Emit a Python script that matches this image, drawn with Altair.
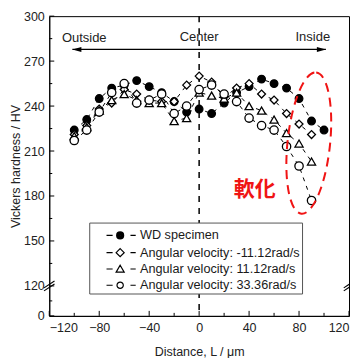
import altair as alt
import pandas as pd

# ---------------- data ----------------
series_names = ["WD specimen", "Angular velocity: -11.12rad/s",
                "Angular velocity: 11.12rad/s", "Angular velocity: 33.36rad/s"]

dist_wd = [-100, -90, -80, -70, -60, -50, -40, -30, -20, -10, 0, 10, 20, 30, 40, 50, 60, 70, 80, 90, 100]
hv_wd = [224, 231, 245, 252, 254, 257, 253, 249, 243, 236, 238, 235, 242, 249, 253, 258, 255, 252, 245, 230, 224]

dist_av = [-100, -90, -80, -70, -60, -50, -40, -30, -20, -10, 0, 10, 20, 30, 40, 50, 60, 70, 80, 90]
hv_m1112 = [221, 227, 238, 242, 251, 248, 244, 243, 243, 254, 260, 256, 246, 252, 255, 248, 244, 235, 228, 221]
hv_p1112 = [220, 226, 237, 244, 248, 244, 242, 242, 230, 232, 249, 247, 245, 249, 240, 237, 231, 222, 215, 203]
hv_p3336 = [217, 224, 236, 249, 255, 242, 244, 248, 235, 240, 251, 254, 248, 243, 232, 227, 224, 213, 200, 177]

x_major = [-120, -80, -40, 0, 40, 80, 120]
x_minor = [-100, -60, -20, 20, 60, 100]
y_major = [0, 120, 150, 180, 210, 240, 270, 300]
y_minor = [60, 135, 165, 195, 225, 255, 285]

dir_labels = ["Outside", "Center", "Inside"]
dir_x = [-92, 0, 91]
dir_y = [285.5, 286, 286]
arrow_x = [-101.5, 101.5]
arrow_y = 277.8
soft_label = "軟化"
soft_pos = (44.6, 184)
ellipse_pos = (87.8, 215.3)


def brk(v):
    """broken y axis: 0-120 compressed into 20 units below 120"""
    return v if v >= 120 else 100 + v / 6.0


rows = []
for d, v in zip(dist_wd, hv_wd):
    rows.append({"series": series_names[0], "dist": d, "hv": v, "t": brk(v)})
for name, vals in zip(series_names[1:], [hv_m1112, hv_p1112, hv_p3336]):
    for d, v in zip(dist_av, vals):
        rows.append({"series": name, "dist": d, "hv": v, "t": brk(v)})
df = pd.DataFrame(rows)

FONT = "Liberation Sans"
xs = alt.Scale(domain=[-120, 120], nice=False, zero=False)
ys = alt.Scale(domain=[100, 300], nice=False, zero=False)

X = alt.X("dist:Q", scale=xs, axis=alt.Axis(
    values=x_major, ticks=False, grid=False, labelPadding=5.5,
    title="Distance, L / μm", titleY=40, titleBaseline="alphabetic",
    titleFontWeight="normal", titleFontSize=12.5, titleFont=FONT, titleColor="#222"))
Y = alt.Y("t:Q", scale=ys, axis=alt.Axis(
    values=[brk(v) for v in y_major], ticks=False, grid=False, labelPadding=5,
    labelExpr="datum.value == 100 ? '0' : format(datum.value, 'd')",
    title="Vickers hardness / HV", titleX=-34, titleBaseline="middle",
    titleFontWeight="normal", titleFontSize=12.5, titleFont=FONT, titleColor="#222"))

base = alt.Chart(df)

# dashed center line
center_df = pd.DataFrame({"dist": [0]})
center = alt.Chart(center_df).mark_rule(color="black", strokeWidth=1.5, strokeDash=[6, 6]).encode(
    x=alt.X("dist:Q", scale=xs))

# arrow
arr_df = pd.DataFrame({"x1": [arrow_x[0]], "x2": [arrow_x[1]], "y": [arrow_y]})
arrow_line = alt.Chart(arr_df).mark_rule(color="black", strokeWidth=1.2).encode(
    x=alt.X("x1:Q", scale=xs), x2="x2:Q", y=alt.Y("y:Q", scale=ys))
head_df = pd.DataFrame({"x": arrow_x, "y": [arrow_y, arrow_y], "side": ["L", "R"]})
head_l = alt.Chart(head_df[head_df.side == "L"]).mark_point(
    shape="M0,0L2,-0.55L2,0.55Z", filled=True, color="black", size=81, opacity=1).encode(
    x=alt.X("x:Q", scale=xs), y=alt.Y("y:Q", scale=ys))
head_r = alt.Chart(head_df[head_df.side == "R"]).mark_point(
    shape="M0,0L-2,-0.55L-2,0.55Z", filled=True, color="black", size=81, opacity=1).encode(
    x=alt.X("x:Q", scale=xs), y=alt.Y("y:Q", scale=ys))

dir_df = pd.DataFrame({"label": dir_labels, "x": dir_x, "y": dir_y})
dir_text = alt.Chart(dir_df).mark_text(font=FONT, fontSize=13, color="#222", baseline="middle").encode(
    x=alt.X("x:Q", scale=xs), y=alt.Y("y:Q", scale=ys), text="label:N")

# series lines and markers
lines = base.mark_line(color="black", strokeWidth=1, strokeDash=[4, 5]).encode(
    x=X, y=Y, detail="series:N")
points = base.mark_point(filled=True, stroke="black", strokeWidth=1.3, opacity=1).encode(
    x=X, y=Y,
    shape=alt.Shape("series:N", scale=alt.Scale(domain=series_names,
                    range=["circle", "diamond", "triangle-up", "circle"]), legend=None),
    fill=alt.Fill("series:N", scale=alt.Scale(domain=series_names,
                  range=["black", "white", "white", "white"]), legend=None),
    size=alt.Size("series:N", scale=alt.Scale(domain=series_names, range=[58, 70, 62, 48]), legend=None),
    order=alt.Order("series_idx:Q"),
).transform_calculate(series_idx="indexof(%s, datum.series)" % str(series_names))

# legend (driven by an empty layer); symbols are paths incl. the line dashes
dash = "M-3.9,0H-2.15M2.95,0H4.45"


def ring(r):
    return "M-%.2f,0A%.2f,%.2f,0,1,0,%.2f,0A%.2f,%.2f,0,1,0,-%.2f,0Z" % (r, r, r, r, r, r, r)


leg_paths = [
    dash + ring(1) + ring(0.74) + ring(0.48) + ring(0.22),
    dash + "M0,-1.15L1.15,0L0,1.15L-1.15,0Z",
    dash + "M0,-1.05L1.15,0.9L-1.15,0.9Z",
    dash + ring(0.9),
]
leg = alt.Legend(title=" ", titleFontSize=5, titlePadding=0, orient="none",
                 legendX=40, legendY=206.6, padding=1.5,
                 symbolOffset=23.1, labelOffset=13.5, rowPadding=2.3, symbolSize=49,
                 labelFontSize=12.7, labelFont=FONT, labelColor="#1a1a1a", labelLimit=0,
                 labelExpr="datum.label + '\u00a0\u00a0'",
                 strokeColor="#555", fillColor="white", symbolStrokeColor="black",
                 symbolFillColor="white", symbolStrokeWidth=1.2, symbolOpacity=1)
legend_layer = base.mark_point(filled=False, strokeWidth=1.2, opacity=1).encode(
    x=X, y=Y,
    shape=alt.Shape("series:N", scale=alt.Scale(domain=series_names, range=leg_paths), legend=leg),
).transform_filter("datum.dist > 1000")

# red dashed ellipse and label
ell_df = pd.DataFrame({"x": [ellipse_pos[0]], "y": [ellipse_pos[1]]})
ellipse = alt.Chart(ell_df).mark_point(
    shape="M0,-1A0.3,1,0,0,1,0,1A0.3,1,0,0,1,0,-1Z", filled=False, stroke="#f01414",
    strokeWidth=2, strokeDash=[9, 6], size=20164, angle=6, opacity=1).encode(
    x=alt.X("x:Q", scale=xs), y=alt.Y("y:Q", scale=ys))
soft_df = pd.DataFrame({"label": [soft_label], "x": [soft_pos[0]], "y": [soft_pos[1]]})
soft = alt.Chart(soft_df).mark_text(font="Noto Sans CJK JP", fontSize=21, fontWeight="bold",
                                    color="#f01414", baseline="middle").encode(
    x=alt.X("x:Q", scale=xs), y=alt.Y("y:Q", scale=ys), text="label:N")

# inward ticks
xt_major = alt.Chart(pd.DataFrame({"v": x_major})).mark_rule(color="black", strokeWidth=1).encode(
    x=alt.X("v:Q", scale=xs), y=alt.value(300), y2=alt.value(295))
xt_minor = alt.Chart(pd.DataFrame({"v": x_minor})).mark_rule(color="black", strokeWidth=1).encode(
    x=alt.X("v:Q", scale=xs), y=alt.value(300), y2=alt.value(297))
yt_major = alt.Chart(pd.DataFrame({"v": [brk(v) for v in y_major]})).mark_rule(color="black", strokeWidth=1).encode(
    y=alt.Y("v:Q", scale=ys), x=alt.value(0), x2=alt.value(5))
yt_minor = alt.Chart(pd.DataFrame({"v": [brk(v) for v in y_minor]})).mark_rule(color="black", strokeWidth=1).encode(
    y=alt.Y("v:Q", scale=ys), x=alt.value(0), x2=alt.value(3))

# axis break marks
brk_rows = []
for cx in [-120, 120]:
    for dy in [-1.0, 1.0]:
        brk_rows.append({"x1": cx - 4.2, "x2": cx + 4.2, "y1": 120 + dy - 2.3, "y2": 120 + dy + 2.3})
brk_df = pd.DataFrame(brk_rows)
breaks = alt.Chart(brk_df).mark_rule(color="black", strokeWidth=1.1).encode(
    x=alt.X("x1:Q", scale=xs), x2="x2:Q", y=alt.Y("y1:Q", scale=ys), y2="y2:Q")

chart = alt.layer(
    center, arrow_line, head_l, head_r, dir_text, lines, points, legend_layer,
    ellipse, soft, xt_major, xt_minor, yt_major, yt_minor, breaks
).resolve_scale(shape="independent").properties(
    width=300, height=300,
    autosize=alt.AutoSizeParams(type="none"),
    padding={"left": 41.3, "top": 8, "right": 1, "bottom": 42},
).configure_view(stroke="black", strokeWidth=1).configure_axis(
    labelFont=FONT, labelFontSize=12.5, labelColor="#222", domainColor="black", domainWidth=1,
    grid=False)

chart.save("out.html", embed_options={"renderer": "svg", "actions": False})
